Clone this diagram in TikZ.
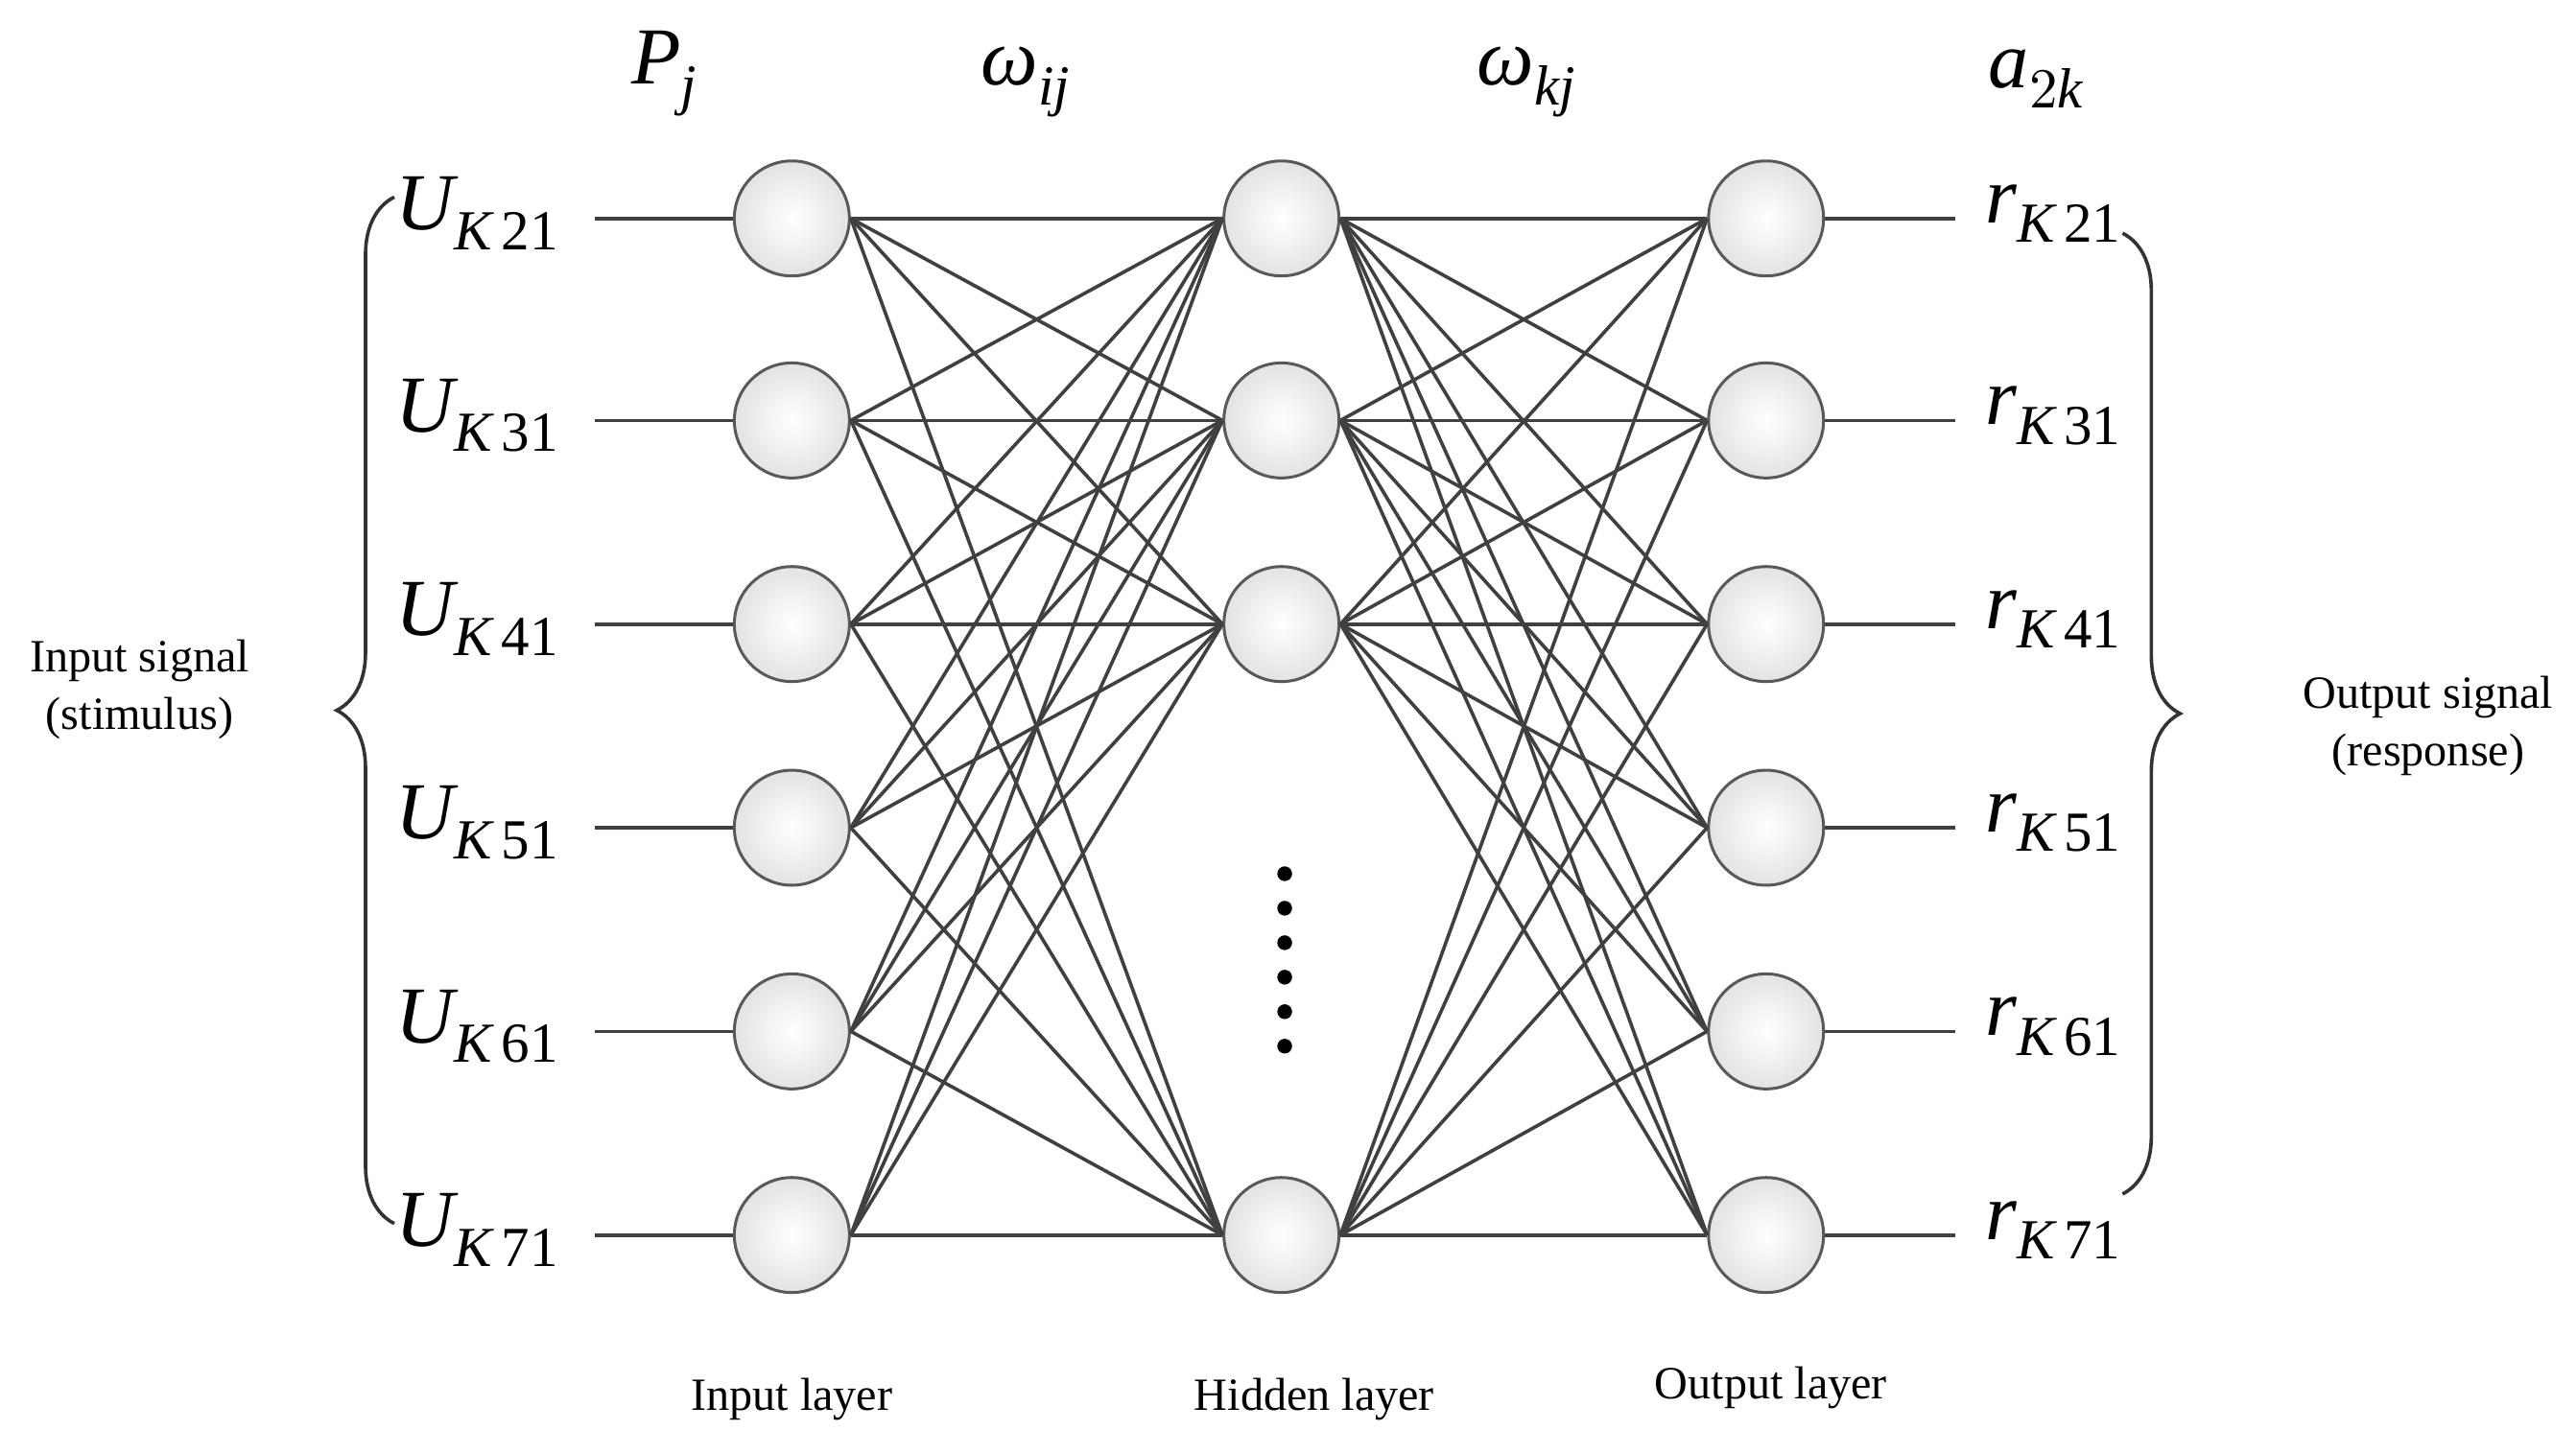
\documentclass[tikz,border=0pt]{standalone}
\usepackage{amsmath}
\usepackage{fontspec}
\setmainfont{Liberation Serif}
\usepackage{unicode-math}
\setmathfont{Latin Modern Math}
\setmathfont[range=it]{Liberation Serif Italic}
\usetikzlibrary{decorations.pathreplacing}
\begin{document}
\begin{tikzpicture}[x=0.01cm,y=-0.01cm,
  neu/.style={circle,minimum size=0.7cm,inner sep=0pt,draw=gray!70!black,line width=0.5pt,shading=radial,inner color=white,outer color=gray!22},
  con/.style={draw=black!75,line width=0.6pt},
  lab/.style={font=\fontsize{14}{16}\selectfont},
  lay/.style={font=\fontsize{8}{10}\selectfont},
  sig/.style={font=\fontsize{8}{10}\selectfont,align=center},
  br/.style={decorate,decoration={brace,amplitude=0.35cm},draw=black!80,line width=0.6pt}]
\useasboundingbox (0,0) rectangle (1568,885);
\foreach \i/\y/\n in {1/133/21,2/256/31,3/380/41,4/504/51,5/628/61,6/752/71}{
  \node[neu] (i\i) at (482,\y) {};
  \node[neu] (o\i) at (1075,\y) {};
  \coordinate (a\i) at (362,\y);
  \coordinate (b\i) at (1190,\y);
  \node[lab,anchor=east] (u\i) at (354,\y-3) {$U_{K\,\text{\n}}$};
  \node[lab,anchor=west] (r\i) at (1196,\y-3) {$r_{K\,\text{\n}}$};
}
\foreach \j/\y in {1/133,2/256,3/380,4/752}{\node[neu] (h\j) at (780,\y) {};}
\foreach \i in {1,...,6}{
  \draw[con] (a\i) -- (i\i);
  \draw[con] (o\i) -- (b\i);
  \foreach \j in {1,...,4}{
    \draw[con] (i\i.east) -- (h\j.west);
    \draw[con] (h\j.east) -- (o\i.west);
  }
}
\foreach \y in {532,553,574,595,616,637}{\fill (782,\y) circle (0.045cm);}
\node[lab] (pj) at (405,45) {$P_{j}$};
\node[lab] (wij) at (625,50) {$\omega_{ij}$};
\node[lab] (wkj) at (930,50) {$\omega_{kj}$};
\node[lab] (a2k) at (1240,48) {$a_{2k}$};
\node[lay] (il) at (482,852) {Input layer};
\node[lay] (hl) at (800,852) {Hidden layer};
\node[lay] (ol) at (1078,845) {Output layer};
\draw[br] (240,745) -- (240,120);
\draw[br] (1292,142) -- (1292,727);
\node[sig] (is) at (85,420) {Input signal\\(stimulus)};
\node[sig] (os) at (1478,442) {Output signal\\(response)};
\end{tikzpicture}
\end{document}
